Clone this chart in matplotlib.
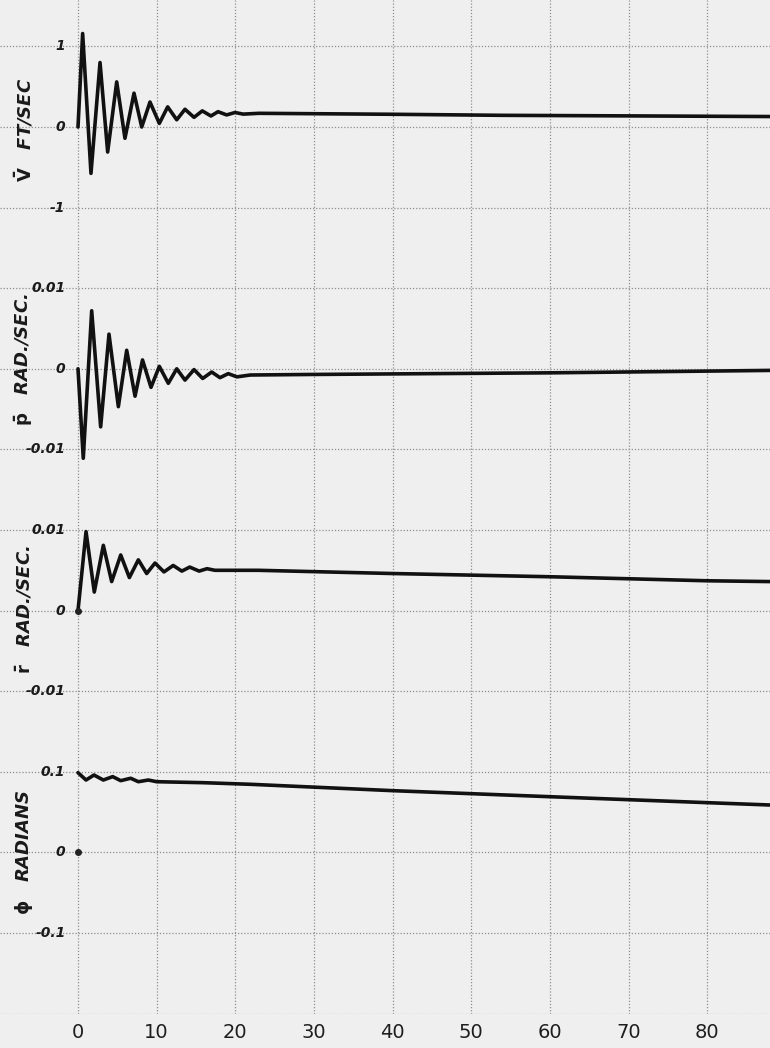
import matplotlib.pyplot as plt

# time axis (seconds) and the four response traces
t_v = [0, 0.59, 1.65, 2.8, 3.77, 4.92, 5.97, 7.12, 8.1, 9.15, 10.34, 11.4, 12.55,
       13.6, 14.75, 15.8, 16.9, 17.8, 18.9, 19.96, 21.0, 23.0, 40, 54, 70, 88]
v_bar = [0, 1.16, -0.575, 0.80, -0.31, 0.56, -0.14, 0.42, 0.0, 0.31, 0.045, 0.25, 0.09,
         0.22, 0.12, 0.20, 0.137, 0.19, 0.15, 0.18, 0.16, 0.17, 0.158, 0.145, 0.138, 0.13]

t_p = [0, 0.67, 1.74, 2.88, 3.94, 5.13, 6.19, 7.25, 8.2, 9.28, 10.34, 11.48, 12.55,
       13.6, 14.75, 15.85, 17.0, 18.05, 19.1, 20.2, 21.9, 30, 60, 88]
p_bar = [0, -0.0111, 0.0072, -0.0072, 0.0043, -0.0047, 0.0023, -0.0034, 0.0011, -0.0023,
         0.0003, -0.0018, 0.0, -0.0014, -0.0001, -0.0012, -0.0004, -0.0011, -0.0006,
         -0.0010, -0.00077, -0.0007, -0.0005, -0.0002]

t_r = [0, 1.02, 2.07, 3.22, 4.28, 5.43, 6.53, 7.67, 8.73, 9.79, 10.93, 12.1, 13.2,
       14.2, 15.4, 16.4, 17.4, 22.9, 40, 60, 80, 88]
r_bar = [0, 0.0098, 0.0023, 0.0081, 0.0036, 0.0069, 0.0041, 0.0063, 0.0046, 0.0059,
         0.0048, 0.0056, 0.0049, 0.0054, 0.0049, 0.0052, 0.0050, 0.0050, 0.0046,
         0.0042, 0.0037, 0.0036]

t_phi = [0, 1.02, 2.03, 3.22, 4.41, 5.43, 6.7, 7.67, 8.94, 10.0, 15.9, 21.9, 40, 60, 80, 88]
phi = [0.0989, 0.0898, 0.096, 0.0898, 0.094, 0.089, 0.092, 0.0877, 0.0898, 0.0877,
       0.0865, 0.0845, 0.0766, 0.0691, 0.0617, 0.0588]

x_ticks = [0, 10, 20, 30, 40, 50, 60, 70, 80]

panels = [
    (t_v, v_bar, (-1.5, 1.576), [-1, 0, 1], ['-1', '0', '1'], r'$\mathbf{\bar{V}}$   FT/SEC', 130),
    (t_p, p_bar, (-0.015, 0.015), [-0.01, 0, 0.01], ['-0.01', '0', '0.01'], r'$\mathbf{\bar{p}}$   RAD./SEC.', 360),
    (t_r, r_bar, (-0.015, 0.015), [-0.01, 0, 0.01], ['-0.01', '0', '0.01'], r'$\mathbf{\bar{r}}$   RAD./SEC.', 610),
    (t_phi, phi, (-0.2, 0.15), [-0.2, -0.1, 0, 0.1], ['', '-0.1', '0', '0.1'], r'$\mathbf{\phi}$   RADIANS', 852),
]

W, H = 770, 1048
fig = plt.figure(figsize=(W / 100, H / 100), dpi=100)
bg = '#efefef'
fig.patch.set_facecolor(bg)

# panel edges in pixels from the top
edges = [0, 247.9, 489.7, 731.5, 1013.6]

for i, (tt, yy, ylim, yt, ylab, name, name_y) in enumerate(panels):
    top, bot = edges[i], edges[i + 1]
    ax = fig.add_axes([0, 1 - bot / H, 1, (bot - top) / H])
    ax.set_facecolor(bg)
    ax.set_xlim(-9.916, 87.97)
    ax.set_ylim(*ylim)
    ax.set_xticks(x_ticks)
    ax.set_yticks(yt)
    ax.grid(True, color='#8f8f8f', linestyle=(0, (1, 1.5)), linewidth=0.9)
    for s in ax.spines.values():
        s.set_visible(False)
    ax.tick_params(length=0, labelleft=False, labelbottom=(i == 3), pad=7,
                   labelsize=14, labelcolor='#1e1e1e')
    ax.plot(tt, yy, color='#111111', linewidth=2.6, solid_joinstyle='round',
            solid_capstyle='round', zorder=3)

    for val, lab in zip(yt, ylab):
        if lab:
            ax.text(-1.6, val, lab, ha='right', va='center', fontsize=10,
                    style='italic', fontweight='bold', color='#1a1a1a')
    if i >= 2:
        ax.plot([0], [0], 'o', color='#222222', markersize=4, zorder=4)

    fig.text(24 / W, 1 - name_y / H, name, rotation=90, ha='center', va='center',
             fontsize=13, style='italic', fontweight='bold', color='#1a1a1a')

fig.savefig('out.png', dpi=100, facecolor=fig.get_facecolor())
